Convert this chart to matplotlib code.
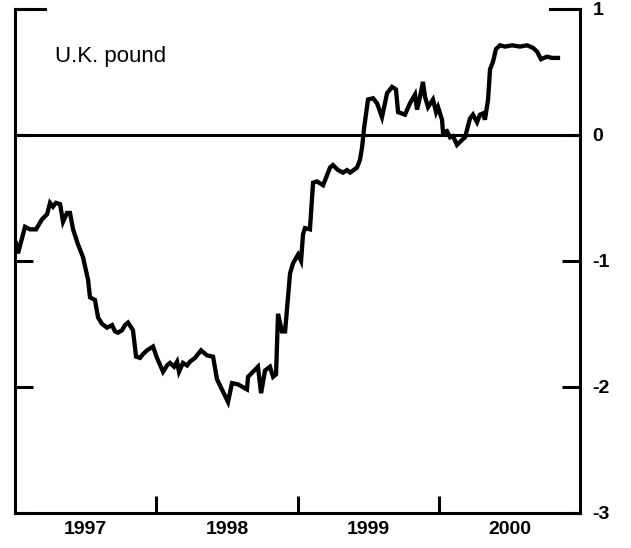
import matplotlib.pyplot as plt

# data (decimal year, value)
years = [1997.007, 1997.021, 1997.071, 1997.106, 1997.149, 1997.191, 1997.227, 1997.248,
         1997.269, 1997.290, 1997.319, 1997.340, 1997.368, 1997.389, 1997.411, 1997.446,
         1997.481, 1997.517, 1997.531, 1997.566, 1997.588, 1997.616, 1997.651, 1997.687,
         1997.708, 1997.729, 1997.758, 1997.779, 1997.800, 1997.835, 1997.857, 1997.885,
         1997.906, 1997.935, 1997.977, 1998.005, 1998.048, 1998.076, 1998.097, 1998.126,
         1998.147, 1998.161, 1998.189, 1998.218, 1998.239, 1998.274, 1998.317, 1998.359,
         1998.402, 1998.430, 1998.473, 1998.508, 1998.536, 1998.579, 1998.642, 1998.650,
         1998.685, 1998.720, 1998.742, 1998.770, 1998.805, 1998.827, 1998.848, 1998.862,
         1998.890, 1998.912, 1998.947, 1998.968, 1999.004, 1999.025, 1999.039, 1999.053,
         1999.088, 1999.110, 1999.138, 1999.181, 1999.230, 1999.251, 1999.287, 1999.322,
         1999.350, 1999.372, 1999.421, 1999.442, 1999.457, 1999.471, 1999.499, 1999.535,
         1999.563, 1999.598, 1999.634, 1999.669, 1999.697, 1999.712, 1999.761, 1999.796,
         1999.832, 1999.846, 1999.867, 1999.888, 1999.903, 1999.924, 1999.959, 1999.981,
         1999.995, 2000.023, 2000.030, 2000.058, 2000.080, 2000.101, 2000.129, 2000.165,
         2000.186, 2000.221, 2000.242, 2000.271, 2000.292, 2000.313, 2000.327, 2000.349,
         2000.363, 2000.384, 2000.405, 2000.433, 2000.469, 2000.519, 2000.575, 2000.625,
         2000.667, 2000.696, 2000.724, 2000.766, 2000.802, 2000.844]
pound = [-0.86, -0.94, -0.73, -0.75, -0.75, -0.67, -0.63, -0.54,
         -0.57, -0.54, -0.55, -0.69, -0.62, -0.62, -0.75, -0.87,
         -0.97, -1.15, -1.29, -1.31, -1.45, -1.50, -1.53, -1.51,
         -1.56, -1.57, -1.55, -1.51, -1.49, -1.55, -1.76, -1.77,
         -1.74, -1.71, -1.68, -1.77, -1.88, -1.83, -1.81, -1.84,
         -1.80, -1.88, -1.81, -1.83, -1.80, -1.77, -1.71, -1.75,
         -1.76, -1.94, -2.04, -2.12, -1.97, -1.98, -2.02, -1.92,
         -1.88, -1.84, -2.05, -1.87, -1.84, -1.92, -1.90, -1.42,
         -1.56, -1.56, -1.10, -1.02, -0.95, -1.00, -0.79, -0.74,
         -0.75, -0.38, -0.37, -0.40, -0.26, -0.24, -0.28, -0.30,
         -0.28, -0.30, -0.26, -0.20, -0.10, 0.05, 0.28, 0.29,
         0.25, 0.14, 0.33, 0.38, 0.36, 0.18, 0.16, 0.25,
         0.32, 0.20, 0.30, 0.42, 0.30, 0.22, 0.28, 0.18,
         0.22, 0.12, 0.02, 0.03, -0.02, -0.01, -0.08, -0.04,
         -0.02, 0.13, 0.16, 0.10, 0.16, 0.17, 0.12, 0.28,
         0.52, 0.58, 0.68, 0.71, 0.70, 0.71, 0.70, 0.71,
         0.69, 0.66, 0.60, 0.62, 0.61, 0.61]

year_ticks = [1998, 1999, 2000]
year_labels = ['1997', '1998', '1999', '2000']
label_pos = [1997.5, 1998.5, 1999.5, 2000.5]
y_ticks = [1, 0, -1, -2, -3]

plt.rcParams['font.family'] = ['Liberation Sans', 'DejaVu Sans']

fig = plt.figure(figsize=(6.31, 5.48), dpi=100)
ax = fig.add_axes([0.0238, 0.064, 0.8954, 0.92])

ax.plot(years, pound, color='black', lw=3.1, solid_joinstyle='miter')
ax.axhline(0, color='black', lw=2.2)

ax.set_xlim(1997, 2001)
ax.set_ylim(-3, 1)

for s in ['left', 'right', 'bottom']:
    ax.spines[s].set_linewidth(2.2)
ax.spines['top'].set_visible(False)
# short stubs at the top corners
ax.plot([0, 0.053], [1, 1], color='black', lw=2.2, transform=ax.transAxes,
        clip_on=False, solid_capstyle='projecting')
ax.plot([0.947, 1], [1, 1], color='black', lw=2.2, transform=ax.transAxes,
        clip_on=False, solid_capstyle='projecting')

ax.set_xticks(year_ticks)
ax.set_xticklabels([])
ax.set_xticks(label_pos, minor=True)
ax.set_xticklabels(year_labels, minor=True, fontsize=14, fontweight='bold')
ax.tick_params(axis='x', which='major', direction='in', length=12, width=2.2)
ax.tick_params(axis='x', which='minor', length=0, pad=6)

ax.set_yticks(y_ticks)
ax.set_yticklabels(['1', '0', '-1', '-2', '-3'], fontsize=14, fontweight='bold')
ax.tick_params(axis='y', direction='in', length=13, width=2.2,
               left=True, right=True, labelleft=False, labelright=True, pad=9)

ax.text(0.07, 0.905, 'U.K. pound', transform=ax.transAxes, fontsize=16,
        ha='left', va='center')

fig.savefig('out.png', dpi=100)
